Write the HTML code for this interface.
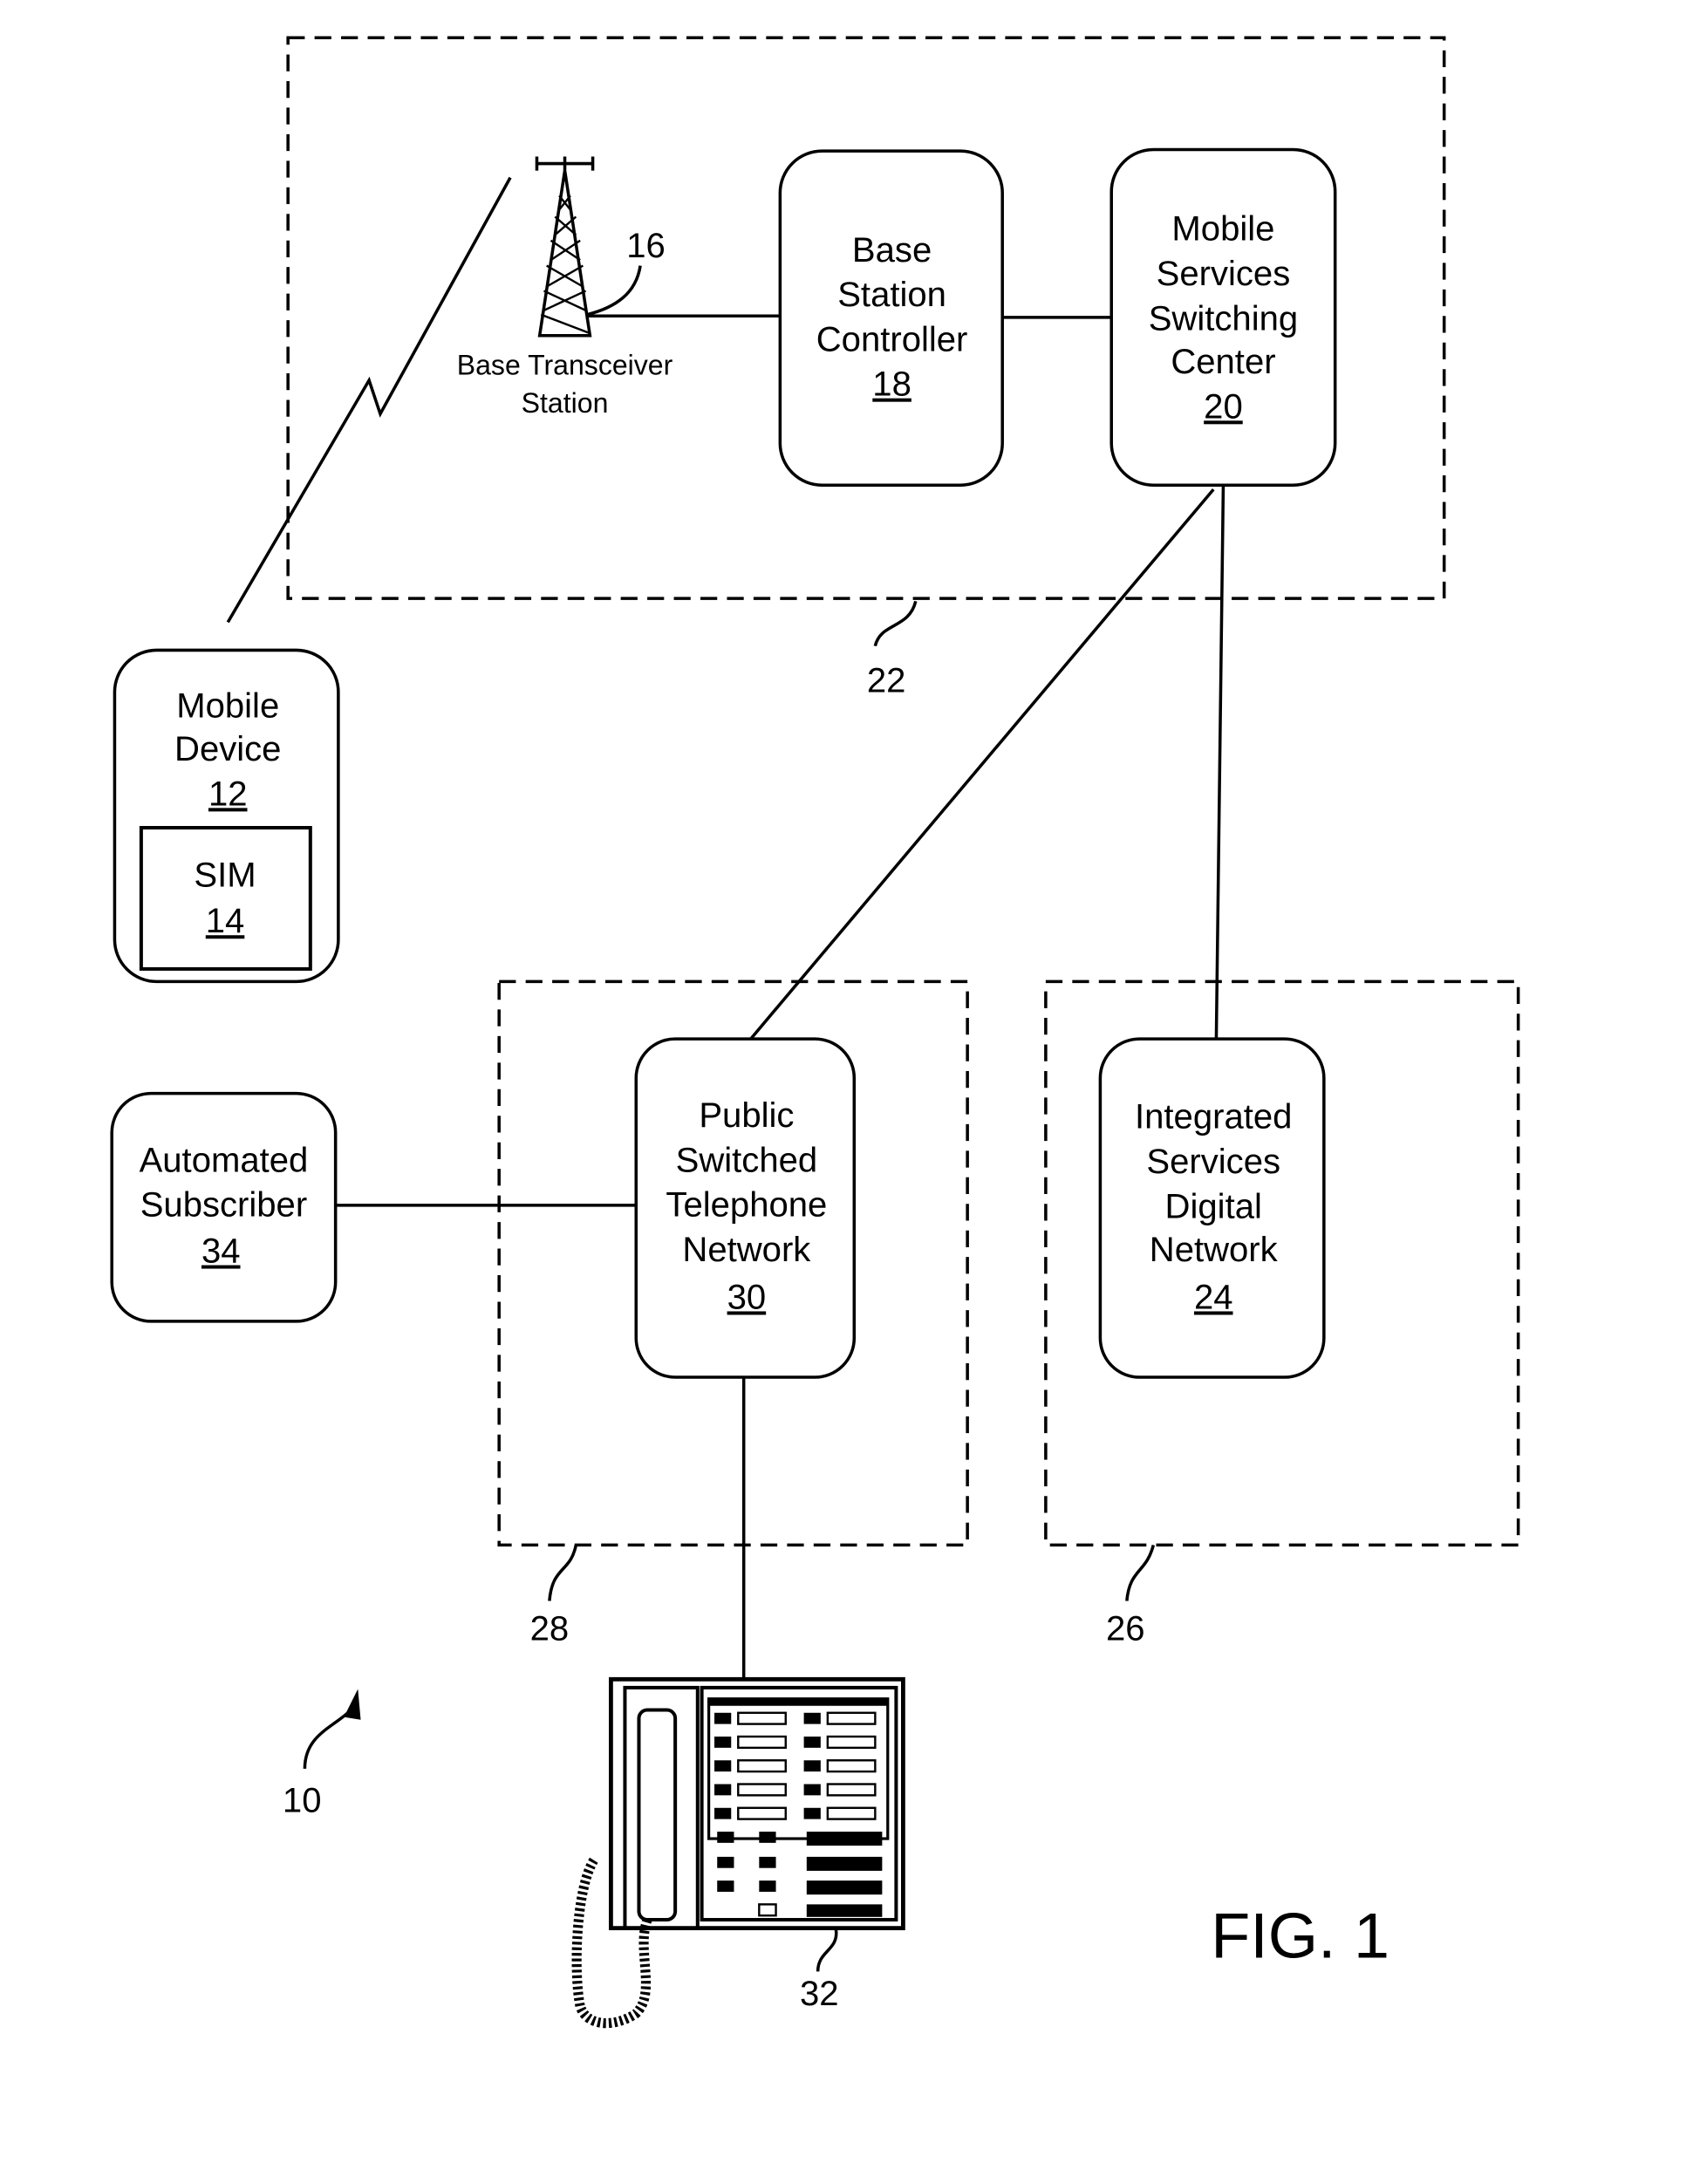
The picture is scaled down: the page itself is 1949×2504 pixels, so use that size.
<!DOCTYPE html>
<html><head><meta charset="utf-8"><style>
html,body{margin:0;padding:0;background:#fff;}
svg{display:block;}
text{font-family:"Liberation Sans",sans-serif;fill:#000;}
</style></head><body>
<svg width="1949" height="2504" viewBox="0 0 1216 1562" preserveAspectRatio="none" xmlns="http://www.w3.org/2000/svg">
<g fill="none" stroke="#000" stroke-width="2.2">
<rect x="206" y="27" width="827" height="401" stroke-dasharray="12,7"/>
<rect x="357" y="702" width="335" height="403" stroke-dasharray="12,7"/>
<rect x="748" y="702" width="338" height="403" stroke-dasharray="12,7"/>
<rect x="558" y="108" width="159" height="239" rx="30"/>
<rect x="795" y="107" width="160" height="240" rx="30"/>
<rect x="82" y="465" width="160" height="237" rx="30"/>
<rect x="101" y="592" width="121" height="101" stroke-width="2.5"/>
<rect x="455" y="743" width="156" height="242" rx="28"/>
<rect x="787" y="743" width="160" height="242" rx="28"/>
<rect x="80" y="782" width="160" height="163" rx="28"/>
<line x1="420" y1="226" x2="558" y2="226"/>
<line x1="717" y1="227" x2="795" y2="227"/>
<line x1="868" y1="350" x2="537" y2="743"/>
<line x1="875" y1="347" x2="870" y2="743"/>
<line x1="240" y1="862" x2="455" y2="862"/>
<line x1="532" y1="985" x2="532" y2="1200"/>
<polyline points="163,445 264,272 272,296 365,127"/>
<path d="M420,225 C440,220 455,210 458,190"/>
<path d="M655,430 C650,450 630,445 626,462"/>
<path d="M412,1105 C408,1125 395,1120 393,1145"/>
<path d="M825,1105 C820,1125 808,1122 806,1145"/>
<path d="M218,1265 C218,1240 240,1235 252,1222"/>
<path d="M598,1380 C600,1395 585,1395 585,1410"/>
<!-- tower -->
<path d="M386,240 L404,122 L422,240 Z M404,122 L404,112 M384,117 L424,117 M384,112 L384,122 M424,112 L424,122"/>
<path d="M400,140 L408,150 M397,155 L412,168 M394,172 L415,186 M391,190 L417,205 M389,208 L419,222 M387,225 L421,238 M408,140 L400,150 M412,155 L397,168 M415,172 L394,186 M417,190 L391,205 M419,208 L389,222" stroke-width="1.5"/>
<!-- phone -->
<rect x="437" y="1201" width="209" height="178" stroke-width="3"/>
<rect x="502" y="1207" width="139" height="166" stroke-width="2.5"/>
<rect x="507" y="1215" width="128" height="100" stroke-width="2"/>
<rect x="447" y="1207" width="52" height="172" stroke-width="2.5"/>
<rect x="457" y="1223" width="26" height="150" rx="6" stroke-width="2.5"/>
<path d="M463,1373 C455,1395 470,1425 455,1440 C440,1450 420,1450 415,1435 C410,1410 412,1350 425,1330" stroke-width="7" stroke-dasharray="2,2"/>
</g>
<g fill="#000">
<rect x="507" y="1215" width="128" height="5"/>
<rect x="511" y="1225" width="12" height="8"/><rect x="528" y="1225" width="34" height="8" fill="none" stroke="#000" stroke-width="1.5"/>
<rect x="575" y="1225" width="12" height="8"/><rect x="592" y="1225" width="34" height="8" fill="none" stroke="#000" stroke-width="1.5"/>
<rect x="511" y="1242" width="12" height="8"/><rect x="528" y="1242" width="34" height="8" fill="none" stroke="#000" stroke-width="1.5"/>
<rect x="575" y="1242" width="12" height="8"/><rect x="592" y="1242" width="34" height="8" fill="none" stroke="#000" stroke-width="1.5"/>
<rect x="511" y="1259" width="12" height="8"/><rect x="528" y="1259" width="34" height="8" fill="none" stroke="#000" stroke-width="1.5"/>
<rect x="575" y="1259" width="12" height="8"/><rect x="592" y="1259" width="34" height="8" fill="none" stroke="#000" stroke-width="1.5"/>
<rect x="511" y="1276" width="12" height="8"/><rect x="528" y="1276" width="34" height="8" fill="none" stroke="#000" stroke-width="1.5"/>
<rect x="575" y="1276" width="12" height="8"/><rect x="592" y="1276" width="34" height="8" fill="none" stroke="#000" stroke-width="1.5"/>
<rect x="511" y="1293" width="12" height="8"/><rect x="528" y="1293" width="34" height="8" fill="none" stroke="#000" stroke-width="1.5"/>
<rect x="575" y="1293" width="12" height="8"/><rect x="592" y="1293" width="34" height="8" fill="none" stroke="#000" stroke-width="1.5"/>
<rect x="513" y="1310" width="12" height="8"/><rect x="543" y="1310" width="12" height="8"/><rect x="577" y="1310" width="54" height="10"/>
<rect x="513" y="1328" width="12" height="8"/><rect x="543" y="1328" width="12" height="8"/><rect x="577" y="1328" width="54" height="10"/>
<rect x="513" y="1345" width="12" height="8"/><rect x="543" y="1345" width="12" height="8"/><rect x="577" y="1345" width="54" height="10"/>
<rect x="577" y="1362" width="54" height="9"/>
<rect x="543" y="1362" width="12" height="8" fill="none" stroke="#000" stroke-width="1.5"/>
</g>
<g font-size="25" text-anchor="middle">
<text x="638" y="187">Base</text><text x="638" y="219">Station</text><text x="638" y="251">Controller</text><text x="638" y="283" text-decoration="underline">18</text>
<text x="875" y="172">Mobile</text><text x="875" y="204">Services</text><text x="875" y="236">Switching</text><text x="875" y="267">Center</text><text x="875" y="299" text-decoration="underline">20</text>
<text x="163" y="513">Mobile</text><text x="163" y="544">Device</text><text x="163" y="576" text-decoration="underline">12</text>
<text x="161" y="634">SIM</text><text x="161" y="667" text-decoration="underline">14</text>
<text x="534" y="806">Public</text><text x="534" y="838">Switched</text><text x="534" y="870">Telephone</text><text x="534" y="902">Network</text><text x="534" y="936" text-decoration="underline">30</text>
<text x="868" y="807">Integrated</text><text x="868" y="839">Services</text><text x="868" y="871">Digital</text><text x="868" y="902">Network</text><text x="868" y="936" text-decoration="underline">24</text>
<text x="160" y="838">Automated</text><text x="160" y="870">Subscriber</text><text x="158" y="903" text-decoration="underline">34</text>
<text x="634" y="495">22</text><text x="393" y="1173">28</text><text x="805" y="1173">26</text>
<text x="216" y="1296">10</text><text x="586" y="1434">32</text><text x="462" y="184">16</text>
</g>
<g font-size="20" text-anchor="middle">
<text x="404" y="268">Base Transceiver</text><text x="404" y="295">Station</text>
</g>
<path d="M246,1228 L256,1208 L258,1230 Z" fill="#000"/>
<text x="930" y="1400" font-size="46" text-anchor="middle">FIG. 1</text>
</svg>
</body></html>
